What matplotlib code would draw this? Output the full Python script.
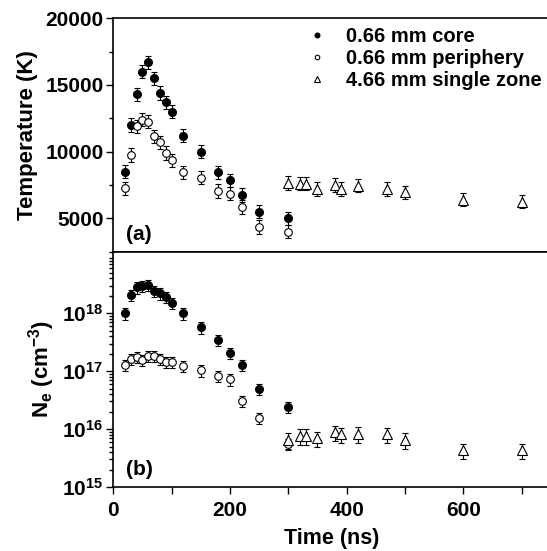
import numpy as np
import matplotlib.pyplot as plt
from matplotlib.ticker import MultipleLocator, FixedLocator, FuncFormatter, LogLocator, NullFormatter

plt.rcParams['font.family'] = ['Liberation Sans', 'DejaVu Sans']
plt.rcParams['font.weight'] = 'bold'
plt.rcParams['mathtext.fontset'] = 'custom'
plt.rcParams['mathtext.rm'] = 'Liberation Sans:bold'
plt.rcParams['mathtext.it'] = 'Liberation Sans:bold'
plt.rcParams['mathtext.bf'] = 'Liberation Sans:bold'

# time points (ns)
t_small = [20, 30, 40, 50, 60, 70, 80, 90, 100, 120, 150, 180, 200, 220, 250, 300]
t_large = [300, 320, 330, 350, 380, 390, 420, 470, 500, 600, 700]

# (a) temperature (K)
T_core = [8500, 12000, 14300, 16000, 16700, 15500, 14400, 13700, 13000, 11200,
          10000, 8450, 7850, 6750, 5500, 5000]
T_peri = [7250, 9750, 11900, 12400, 12250, 11150, 10700, 9900, 9350, 8450,
          8050, 7050, 6850, 5850, 4350, 4000]
T_single = [7650, 7600, 7600, 7200, 7500, 7200, 7450, 7200, 6950, 6400, 6250]
T_err = 500

# (b) electron density (cm^-3)
N_core = [1.0e18, 2.1e18, 2.8e18, 3.0e18, 3.1e18, 2.4e18, 2.2e18, 1.9e18, 1.5e18,
          1.0e18, 5.7e17, 3.5e17, 2.1e17, 1.3e17, 5.0e16, 2.4e16]
N_peri = [1.3e17, 1.65e17, 1.75e17, 1.55e17, 1.85e17, 1.85e17, 1.65e17, 1.45e17,
          1.45e17, 1.22e17, 1.03e17, 8.2e16, 7.2e16, 3.1e16, 1.55e16, 5.5e15]
N_single = [6.5e15, 7.7e15, 7.7e15, 6.9e15, 8.8e15, 8.2e15, 8.4e15, 8.2e15,
            6.6e15, 4.3e15, 4.3e15]
N_rel_err = 0.22

labels = ['0.66 mm core', '0.66 mm periphery', '4.66 mm single zone']

fig = plt.figure(figsize=(5.47, 5.51), dpi=100)
ax1 = fig.add_axes([0.207, 0.543, 0.80, 0.424])
ax2 = fig.add_axes([0.207, 0.116, 0.80, 0.427])

ebkw = dict(ecolor='black', elinewidth=0.8, capsize=2.5, capthick=0.8, linestyle='none')

e1 = ax1.errorbar(t_small, T_core, yerr=T_err, fmt='o', ms=5.5, mfc='black', mec='black',
                  **ebkw)
e2 = ax1.errorbar(t_small, T_peri, yerr=T_err, fmt='o', ms=5.5, mfc='white', mec='black',
                  mew=0.8, **ebkw)
e3 = ax1.errorbar(t_large, T_single, yerr=T_err, fmt='^', ms=6.5, mfc='white', mec='black',
                  mew=0.8, **ebkw)

N_core = np.array(N_core)
N_peri = np.array(N_peri)
N_single = np.array(N_single)
ax2.errorbar(t_small, N_core, yerr=N_core * N_rel_err, fmt='o', ms=5.5, mfc='black',
             mec='black', **ebkw)
ax2.errorbar(t_small, N_peri, yerr=N_peri * N_rel_err, fmt='o', ms=5.5, mfc='white',
             mec='black', mew=0.8, **ebkw)
ax2.errorbar(t_large, N_single, yerr=N_single * 0.3, fmt='^', ms=6.5, mfc='white',
             mec='black', mew=0.8, **ebkw)

for ax in (ax1, ax2):
    ax.set_xlim(0, 750)
    ax.xaxis.set_major_locator(MultipleLocator(200))
    ax.xaxis.set_minor_locator(MultipleLocator(100))
    ax.tick_params(which='both', direction='out', width=1.0, labelsize=15, pad=2)
    ax.tick_params(which='major', length=5)
    ax.tick_params(which='minor', length=5)
    for s in ax.spines.values():
        s.set_linewidth(1.2)
    ax.spines['right'].set_visible(False)

ax1.tick_params(which='minor', axis='y', length=3)
ax1.set_ylim(2500, 20000)
ax1.yaxis.set_major_locator(MultipleLocator(5000))
ax1.yaxis.set_minor_locator(MultipleLocator(2500))
ax1.tick_params(axis='x', labelbottom=False)
ax1.set_ylabel('Temperature (K)', fontsize=16, fontweight='bold', labelpad=5)
ax1.text(0.03, 0.05, '(a)', transform=ax1.transAxes, fontsize=15, fontweight='bold')
ax1.legend([e1[0], e2[0], e3[0]], labels, loc='upper right', frameon=False, fontsize=14.5,
           handletextpad=0.7, markerscale=0.6, borderaxespad=0.05, labelspacing=0.15,
           bbox_to_anchor=(1.0, 1.0), handlelength=1.5)

ax2.set_yscale('log')
ax2.set_ylim(1e15, 1.15e19)
ax2.yaxis.set_major_locator(FixedLocator([1e15, 1e16, 1e17, 1e18]))
ax2.yaxis.set_minor_locator(LogLocator(base=10, subs=np.arange(2, 10)))
ax2.yaxis.set_minor_formatter(NullFormatter())
ax2.tick_params(which='minor', axis='y', length=3)
ax2.tick_params(axis='x', pad=5)
ax2.yaxis.set_major_formatter(FuncFormatter(lambda v, p: r'$10^{%d}$' % round(np.log10(v))))
ax2.set_ylabel(r'N$_e$ (cm$^{-3}$)', fontsize=16, fontweight='bold', labelpad=4)
ax2.set_xlabel('Time (ns)', fontsize=15.5, fontweight='bold', labelpad=6)
ax2.text(0.03, 0.05, '(b)', transform=ax2.transAxes, fontsize=15, fontweight='bold')

fig.savefig('out.png', dpi=100, facecolor='white')
